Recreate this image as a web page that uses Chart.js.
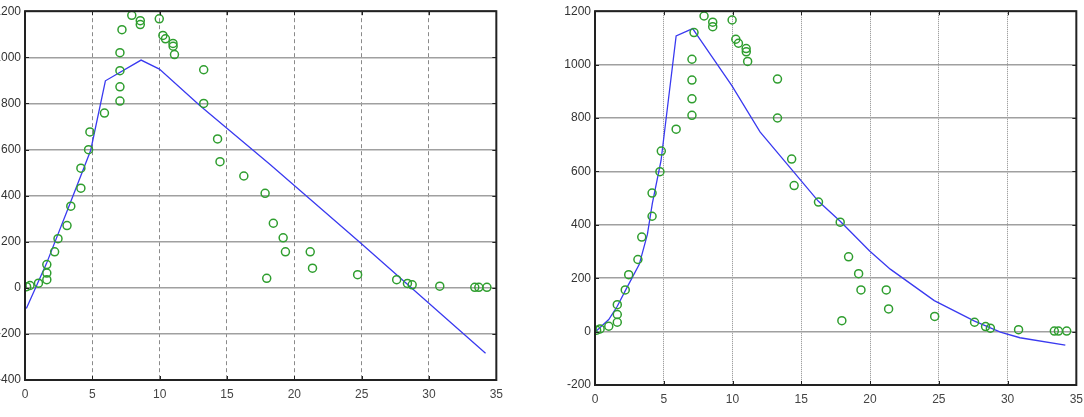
<!DOCTYPE html>
<html>
<head>
<meta charset="utf-8">
<script src="https://cdn.jsdelivr.net/npm/chart.js@4/dist/chart.umd.min.js"></script>
<style>
  html, body { margin: 0; padding: 0; background: #fff; }
  body { width: 1084px; height: 417px; position: relative; overflow: hidden; }
  #graficoEsq { position: absolute; left: -40px; top: 0; }
  #graficoDir { position: absolute; left: 555px; top: 0; }
</style>
</head>
<body>
<canvas id="graficoEsq" width="550" height="417"></canvas>
<canvas id="graficoDir" width="535" height="417"></canvas>
<script>
// observed data (same on both plots)
const tempos = [0.12, 0.37, 1.0, 1.62, 1.62, 1.62, 2.2, 2.45, 3.12, 3.4, 4.15, 4.15, 4.72, 4.82, 5.9,
    7.05, 7.05, 7.05, 7.05, 7.2, 7.93, 8.56, 8.56, 9.97, 10.24, 10.43, 10.99, 11.0, 11.1,
    13.27, 13.27, 14.3, 14.48, 16.25, 17.83, 17.95, 18.44, 19.17, 19.34, 21.18, 21.35,
    24.7, 27.6, 28.4, 28.75, 30.8, 33.4, 33.7, 34.3];
const concentracoes = [5, 10, 20, 101, 64, 35, 156, 213, 270, 354, 432, 519, 599, 676, 758,
    810, 872, 942, 1020, 1120, 1182, 1159, 1142, 1167, 1095, 1080, 1060, 1048, 1012,
    946, 800, 646, 547, 485, 410, 41, 280, 217, 156, 156, 85,
    57, 35, 19, 13, 7, 2, 2, 2];

// model curve, left plot
const modeloEsqX = [0.1, 1.6, 3.25, 4.88, 5.97, 8.62, 9.98, 13.0, 18.2, 24.9, 34.2];
const modeloEsqY = [-90, 106, 352, 597, 898, 988, 949, 790, 535, 195, -284];

// model curve, right plot
const modeloDirX = [0.05, 1.0, 1.62, 2.3, 3.22, 3.81, 4.17, 4.8, 5.9, 7.1, 8.5, 9.95, 12.0, 14.43,
    16.25, 17.83, 19.97, 21.47, 24.67, 27.6, 29.48, 30.9, 34.2];
const modeloDirY = [0, 45, 95, 163, 252, 364, 480, 640, 1107, 1135, 1030, 921, 748, 599,
    488, 413, 302, 234, 116, 39, -2, -23, -51];

const xTicks = [0, 5, 10, 15, 20, 25, 30, 35];

const molduraPlugin = {
    id: 'moldura',
    afterDraw(chart) {
        const { ctx, chartArea: a, scales: { x, y } } = chart;
        ctx.save();
        ctx.strokeStyle = '#222';
        ctx.lineWidth = 1;
        x.ticks.forEach(t => {
            const px = Math.round(x.getPixelForValue(t.value)) + 0.5;
            ctx.beginPath();
            ctx.moveTo(px, a.bottom); ctx.lineTo(px, a.bottom - 4);
            ctx.moveTo(px, a.top); ctx.lineTo(px, a.top + 4);
            ctx.stroke();
        });
        y.ticks.forEach(t => {
            const py = Math.round(y.getPixelForValue(t.value)) + 0.5;
            ctx.beginPath();
            ctx.moveTo(a.left, py); ctx.lineTo(a.left + 4, py);
            ctx.moveTo(a.right, py); ctx.lineTo(a.right - 4, py);
            ctx.stroke();
        });
        ctx.lineWidth = 2;
        ctx.strokeRect(a.left, a.top, a.right - a.left, a.bottom - a.top);
        ctx.restore();
    }
};

function criarGrafico(canvasId, modeloX, modeloY, yMin, yMax, cfg) {
    const pontos = tempos.map((t, i) => ({ x: t, y: concentracoes[i] }));
    const curva = modeloX.map((t, i) => ({ x: t, y: modeloY[i] }));

    return new Chart(document.getElementById(canvasId).getContext('2d'), {
        type: 'scatter',
        data: {
            datasets: [{
                data: curva,
                showLine: true,
                borderColor: '#3a3af0',
                borderWidth: 1.3,
                pointRadius: 0,
                tension: 0,
                order: 2
            }, {
                data: pontos,
                pointStyle: 'circle',
                pointRadius: 4,
                backgroundColor: 'rgba(0,0,0,0)',
                borderColor: '#2f9e2f',
                pointBorderWidth: 1.5,
                order: 1
            }]
        },
        options: {
            responsive: false,
            animation: false,
            layout: {
                padding: { top: cfg.top, right: 0, left: 0, bottom: 0 }
            },
            plugins: {
                legend: { display: false },
                tooltip: { enabled: false }
            },
            scales: {
                x: {
                    type: 'linear',
                    min: 0,
                    max: 35,
                    afterBuildTicks: s => { s.ticks = xTicks.map(v => ({ value: v })); },
                    afterFit: s => { s.height = cfg.xAltura; },
                    grid: { color: '#8a8a8a', lineWidth: 1, drawTicks: false },
                    border: { display: false, dash: cfg.dash },
                    ticks: {
                        padding: cfg.xPad,
                        color: '#444',
                        callback: v => String(v),
                        font: { family: 'Liberation Sans', size: 12 }
                    }
                },
                y: {
                    min: yMin,
                    max: yMax,
                    afterFit: s => { s.width = cfg.yLargura; },
                    grid: { color: '#a0a0a0', lineWidth: 1.5, drawTicks: false },
                    border: { display: false },
                    ticks: {
                        stepSize: 200,
                        padding: 4,
                        color: '#333',
                        callback: v => String(v),
                        font: { family: 'Liberation Sans', size: 12 }
                    }
                }
            }
        },
        plugins: [molduraPlugin]
    });
}

document.addEventListener('DOMContentLoaded', () => {
    criarGrafico('graficoEsq', modeloEsqX, modeloEsqY, -400, 1200,
        { top: 11, yLargura: 65, xAltura: 37, xPad: 7, dash: [4, 3] });
    criarGrafico('graficoDir', modeloDirX, modeloDirY, -200, 1200,
        { top: 8, yLargura: 40, xAltura: 32, xPad: 7, dash: [1, 1] });
});
</script>
</body>
</html>
